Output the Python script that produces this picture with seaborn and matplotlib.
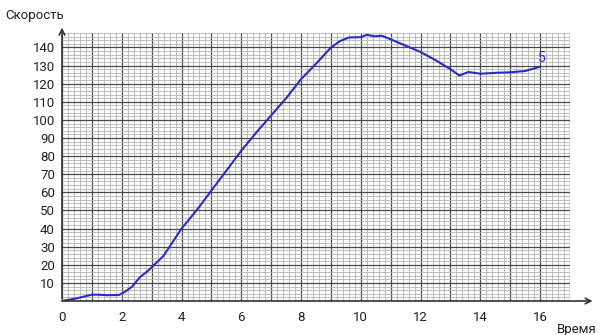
import matplotlib
matplotlib.use("Agg")
import matplotlib.pyplot as plt
import seaborn as sns
import pandas as pd
import numpy as np
from matplotlib.ticker import MultipleLocator, FuncFormatter

# Data
time = [0, 0.5, 1.0, 1.2, 1.5, 1.9, 2.1, 2.35, 2.6, 2.9, 3.4, 4.0, 4.5, 5.0, 5.5,
        6.0, 6.5, 7.0, 7.5, 8.0, 8.5, 9.0, 9.3, 9.6, 10.0, 10.2, 10.45, 10.7, 11.0,
        11.5, 12.0, 12.5, 13.0, 13.3, 13.6, 14.0, 14.5, 15.0, 15.5, 16.0]
speed = [0, 1.5, 3.5, 3.5, 3.2, 3.3, 5, 8, 13, 17, 25, 40, 50, 61, 72,
         83, 93, 102.5, 112, 122.5, 131, 140, 143.5, 145.5, 145.7, 147, 146.2, 146.5, 144.5,
         141, 137.5, 133, 128, 124.5, 126.5, 125.5, 126, 126.3, 127, 129.4]
x_ticks = [0, 2, 4, 6, 8, 10, 12, 14, 16]
y_ticks = [10, 20, 30, 40, 50, 60, 70, 80, 90, 100, 110, 120, 130, 140]
x_label = "Время"
y_label = "Скорость"
curve_label = "5"

sns.set_style("white")
plt.rcParams['font.family'] = ['Roboto', 'DejaVu Sans']

df = pd.DataFrame({"t": time, "v": speed})

W, H = 600, 335
fig = plt.figure(figsize=(6, 3.35), dpi=100)
left, right, bottom, top = 62, 570, 301, 33
ax = fig.add_axes([left / W, 1 - bottom / H, (right - left) / W, (bottom - top) / H])
ax.set_xlim(0, 17)
ax.set_ylim(0, 148)

# graph-paper grid
ax.xaxis.set_major_locator(MultipleLocator(1))
ax.xaxis.set_minor_locator(MultipleLocator(0.2))
ax.yaxis.set_major_locator(MultipleLocator(10))
ax.yaxis.set_minor_locator(MultipleLocator(2))
ax.grid(which="minor", color="#b4b4b4", linewidth=0.6)
ax.grid(which="major", color="#4a4a4a", linewidth=0.9)
ax.set_axisbelow(True)

ax.xaxis.set_major_formatter(FuncFormatter(lambda v, p: f"{int(round(v))}" if int(round(v)) in x_ticks else ""))
ax.yaxis.set_major_formatter(FuncFormatter(lambda v, p: f"{int(round(v))}" if int(round(v)) in y_ticks else ""))
ax.tick_params(which="both", length=0)
ax.tick_params(axis="x", labelsize=9.5, pad=7, colors="#222222")
ax.tick_params(axis="y", labelsize=9.5, pad=5, colors="#222222")
for s in ax.spines.values():
    s.set_visible(False)

sns.lineplot(data=df, x="t", y="v", ax=ax, color="#2b2bc4", linewidth=1.5, clip_on=False)
ax.set_xlabel("")
ax.set_ylabel("")

# axes with arrows
ax.annotate("", xy=(17.85, 0), xytext=(0, 0), xycoords="data",
            arrowprops=dict(arrowstyle="->", color="#333333", lw=1.2, mutation_scale=10),
            annotation_clip=False)
ax.annotate("", xy=(0, 152.5), xytext=(0, 0), xycoords="data",
            arrowprops=dict(arrowstyle="->", color="#333333", lw=1.2, mutation_scale=10),
            annotation_clip=False)

ax.text(16.05, 134, curve_label, color="#2b2bc4", fontsize=10, ha="center", va="center")
fig.text(5 / W, 1 - 15 / H, y_label, fontsize=9.5, ha="left", va="center", color="#222222")
fig.text(557 / W, 1 - 329 / H, x_label, fontsize=9.5, ha="left", va="center", color="#222222")

fig.savefig("out.png", dpi=100, facecolor="white")
